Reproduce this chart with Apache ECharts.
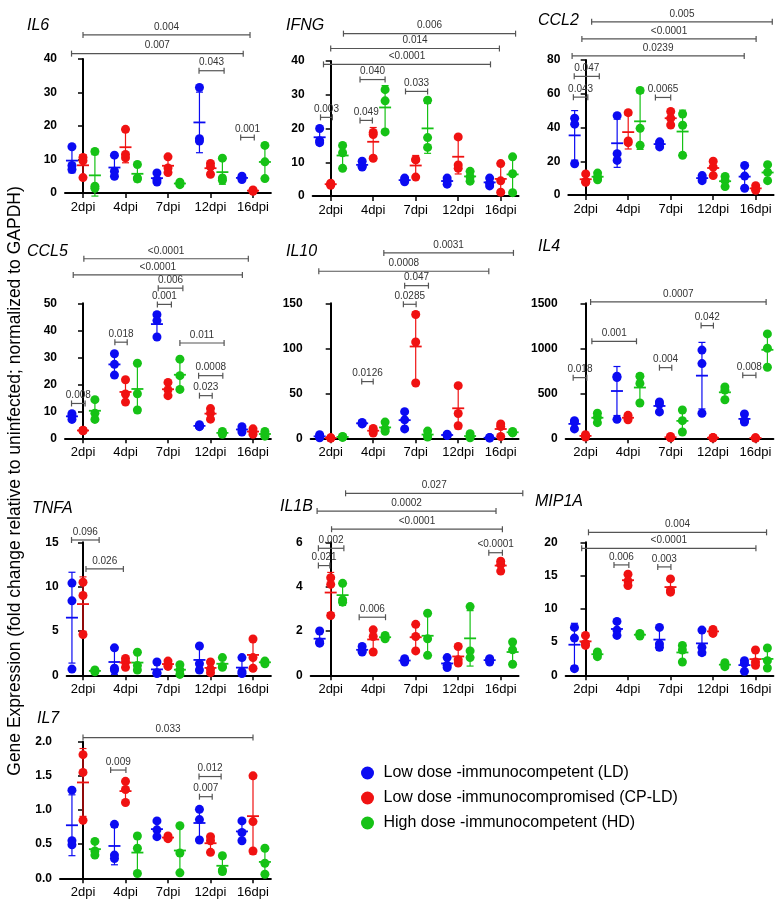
<!DOCTYPE html>
<html>
<head>
<meta charset="utf-8">
<script src="https://cdn.jsdelivr.net/npm/echarts@6/dist/echarts.min.js"></script>
<style>
  html, body { margin: 0; padding: 0; background: #fff; }
  #chart { width: 783px; height: 904px; }
</style>
</head>
<body>
<div id="chart"></div>
<script>
var DAYS = ['2dpi', '4dpi', '7dpi', '12dpi', '16dpi'];
var GROUPS = ['Low dose -immunocompetent (LD)', 'Low dose -immunocompromised (CP-LD)', 'High dose -immunocompetent (HD)'];

// three replicates per day (2, 4, 7, 12, 16 dpi) for LD / CP-LD / HD
var IL6_LD = [[13.8, 8.2, 7.0], [11.3, 6.5, 5.0], [6.0, 4.0, 3.3], [31.5, 16.2, 15.5], [5.0, 4.5, 4.0]];
var IL6_CP = [[10.6, 9.6, 4.6], [19.0, 11.5, 10.5], [10.8, 7.5, 6.1], [8.8, 7.8, 5.6], [0.9, 0.7, 0.5]];
var IL6_HD = [[12.4, 2.0, 1.4], [8.5, 4.5, 4.2], [3.2, 2.8, 2.5], [10.4, 4.5, 3.8], [14.2, 9.3, 4.3]];

var IFNG_LD = [[20.0, 16.4, 15.8], [10.3, 8.8, 8.6], [5.3, 4.6, 4.2], [5.3, 4.5, 3.5], [5.3, 3.8, 3.0]];
var IFNG_CP = [[3.8, 3.5, 3.2], [18.8, 18.2, 11.2], [10.8, 10.7, 5.6], [17.5, 9.2, 8.2], [9.6, 4.5, 1.1]];
var IFNG_HD = [[15.0, 12.8, 8.2], [31.5, 28.2, 19.0], [28.4, 17.3, 14.4], [7.3, 5.7, 4.4], [11.6, 6.6, 1.0]];

var CCL2_LD = [[45.5, 42.0, 18.5], [47.0, 24.5, 20.5], [31.5, 30.5, 28.5], [11.5, 10.0, 8.5], [17.5, 11.2, 4.0]];
var CCL2_CP = [[12.5, 8.0, 7.5], [48.8, 32.0, 31.0], [49.5, 45.5, 41.5], [20.0, 16.5, 11.5], [5.5, 3.5, 2.8]];
var CCL2_HD = [[13.0, 10.5, 9.0], [62.0, 39.5, 29.5], [48.0, 41.3, 23.5], [11.0, 8.5, 5.0], [18.0, 13.5, 8.5]];

var CCL5_LD = [[9.1, 8.3, 7.0], [31.3, 27.4, 23.4], [45.8, 43.6, 37.5], [5.0, 4.5, 4.3], [4.3, 3.2, 2.3]];
var CCL5_CP = [[3.0, 2.9, 2.8], [21.7, 16.4, 13.4], [20.7, 18.0, 15.8], [11.0, 9.3, 7.1], [3.5, 2.5, 1.5]];
var CCL5_HD = [[14.3, 9.3, 7.0], [27.8, 16.5, 10.5], [29.3, 23.2, 18.1], [2.5, 2.0, 1.5], [2.5, 1.5, 0.8]];

var IL10_LD = [[4.0, 2.0, 0.5], [17.5, 16.5, 16.0], [29.6, 20.5, 10.4], [4.5, 3.5, 3.0], [1.0, 0.5, 0.3]];
var IL10_CP = [[0.5, 0.3, 0.2], [11.0, 8.5, 5.8], [137.5, 107.0, 61.5], [58.5, 27.5, 14.0], [16.0, 13.0, 2.0]];
var IL10_HD = [[2.0, 1.5, 1.0], [18.0, 10.4, 7.8], [8.0, 3.0, 1.5], [5.0, 2.0, 0.5], [7.5, 6.5, 6.0]];

var IL4_LD = [[196, 181, 104], [690, 675, 211], [404, 381, 293], [980, 830, 278], [270, 196, 181]];
var IL4_CP = [[40, 25, 15], [255, 225, 205], [20, 10, 5], [10, 5, 3], [5, 3, 2]];
var IL4_HD = [[278, 233, 174], [690, 610, 392], [315, 196, 70], [570, 535, 428], [1160, 1000, 790]];

var TNFA_LD = [[10.4, 8.4, 0.7], [3.1, 0.8, 0.6], [1.5, 0.3, 0.2], [3.3, 1.3, 0.6], [2.0, 0.4, 0.2]];
var TNFA_CP = [[10.5, 9.0, 4.6], [1.9, 1.5, 0.9], [1.6, 1.2, 1.0], [1.5, 0.7, 0.3], [4.1, 2.0, 0.8]];
var TNFA_HD = [[0.6, 0.5, 0.4], [2.6, 1.1, 0.6], [1.2, 0.6, 0.1], [2.0, 1.0, 0.9], [1.6, 1.5, 1.3]];

var IL1B_LD = [[2.0, 1.5, 1.45], [1.3, 1.1, 1.05], [0.75, 0.65, 0.6], [0.8, 0.45, 0.35], [0.75, 0.7, 0.6]];
var IL1B_CP = [[4.4, 4.1, 2.7], [2.05, 1.75, 1.05], [2.3, 1.75, 1.1], [1.3, 0.7, 0.55], [5.15, 5.0, 4.7]];
var IL1B_HD = [[4.15, 3.4, 3.3], [1.8, 1.7, 1.65], [2.8, 1.65, 0.9], [3.1, 1.1, 0.8], [1.5, 1.15, 0.5]];

var MIP1A_LD = [[7.2, 5.6, 1.0], [8.1, 6.8, 6.0], [7.2, 4.7, 4.2], [6.8, 4.2, 3.4], [2.2, 1.8, 0.6]];
var MIP1A_CP = [[6.0, 4.8, 4.5], [15.2, 14.2, 13.5], [14.5, 12.8, 12.5], [6.9, 6.6, 6.3], [3.8, 2.0, 1.5]];
var MIP1A_HD = [[3.5, 3.2, 2.8], [6.3, 6.1, 5.9], [4.5, 3.8, 2.0], [1.9, 1.6, 1.3], [4.1, 2.2, 1.1]];

var IL7_LD = [[1.29, 0.55, 0.49], [0.79, 0.34, 0.29], [0.84, 0.71, 0.61], [1.01, 0.86, 0.56], [0.84, 0.67, 0.55]];
var IL7_CP = [[1.81, 1.55, 0.85], [1.42, 1.30, 1.11], [0.62, 0.59, 0.58], [0.61, 0.55, 0.38], [1.50, 0.83, 0.40]];
var IL7_HD = [[0.54, 0.40, 0.34], [0.62, 0.44, 0.07], [0.77, 0.37, 0.08], [0.33, 0.12, 0.10], [0.44, 0.22, 0.06]];

// significance brackets: [from x, to x, y (data units), p value]
var IL6_SIG = [[0, 3.93, 47.2, '0.004'], [-0.27, 3.77, 41.6, '0.007'], [2.73, 3.32, 36.5, '0.043'], [3.71, 4.03, 16.6, '0.001']];
var IFNG_SIG = [[0.30, 4.35, 48.1, '0.006'], [0, 3.97, 43.7, '0.014'], [-0.17, 3.76, 39.0, '<0.0001'], [0.69, 1.28, 34.5, '0.040'],
  [1.76, 2.28, 31.0, '0.033'], [0.69, 0.98, 22.4, '0.049'], [-0.24, 0.04, 23.3, '0.003']];
var CCL2_SIG = [[0.14, 4.39, 102.6, '0.005'], [-0.09, 4.01, 92.5, '<0.0001'], [-0.32, 3.73, 82.4, '0.0239'],
  [-0.27, 0.32, 70.3, '0.047'], [-0.29, 0.05, 58.0, '0.043'], [1.64, 2.0, 57.8, '0.0065']];
var CCL5_SIG = [[0.02, 3.89, 66.5, '<0.0001'], [-0.23, 3.75, 60.5, '<0.0001'], [1.77, 2.35, 55.6, '0.006'], [1.75, 2.08, 49.6, '0.001'],
  [0.75, 1.04, 35.6, '0.018'], [2.28, 3.32, 35.3, '0.011'], [2.72, 3.29, 23.2, '0.0008'], [2.74, 3.04, 15.8, '0.023'], [-0.27, 0.05, 12.9, '0.008']];
var IL10_SIG = [[1.25, 4.30, 206, '0.0031'], [-0.28, 3.72, 185.6, '0.0008'], [1.74, 2.30, 169.6, '0.047'], [1.71, 2.01, 148.9, '0.0285'], [0.73, 1.0, 63, '0.0126']];
var IL4_SIG = [[0.12, 4.25, 1515, '0.0007'], [2.72, 3.01, 1252, '0.042'], [0.15, 1.2, 1078, '0.001'], [1.74, 2.03, 785, '0.004'],
  [-0.29, 0.03, 674, '0.018'], [3.70, 4.01, 700, '0.008']];
var TNFA_SIG = [[-0.27, 0.38, 15.26, '0.096'], [0.07, 0.95, 12.0, '0.026']];
var IL1B_SIG = [[0.35, 4.52, 8.21, '0.027'], [-0.32, 3.89, 7.41, '0.0002'], [0.02, 4.04, 6.59, '<0.0001'], [-0.29, 0.31, 5.73, '0.002'],
  [-0.29, -0.02, 4.95, '0.021'], [3.72, 4.04, 5.53, '<0.0001'], [0.67, 1.29, 2.62, '0.006']];
var MIP1A_SIG = [[0.07, 4.26, 21.5, '0.004'], [-0.09, 4.01, 19.1, '<0.0001'], [0.67, 1.02, 16.6, '0.006'], [1.70, 2.01, 16.3, '0.003']];
var IL7_SIG = [[0, 4.0, 2.06, '0.033'], [0.65, 1.01, 1.585, '0.009'], [2.73, 3.25, 1.49, '0.012'], [2.74, 3.04, 1.195, '0.007']];

var FONT = '"Liberation Sans", Arial, Helvetica, sans-serif';
var COLORS = ['#0b0bf2', '#f01212', '#16c216'];
var OFF = [-0.26, 0, 0.28];   // horizontal offset of each group inside a day
var STEP = 42.5, XMAX = 4.42;

var panels = [
  { name: 'IL6', groups: [IL6_LD, IL6_CP, IL6_HD], sig: IL6_SIG, max: 40, interval: 10, axisX: 65, c0: 83, top: 59, bottom: 193, tx: 27, ty: 27 },
  { name: 'IFNG', groups: [IFNG_LD, IFNG_CP, IFNG_HD], sig: IFNG_SIG, max: 40, interval: 10, axisX: 312.7, c0: 330.7, top: 61, bottom: 196, tx: 286, ty: 27 },
  { name: 'CCL2', groups: [CCL2_LD, CCL2_CP, CCL2_HD], sig: CCL2_SIG, max: 80, interval: 20, axisX: 568.3, c0: 585.7, top: 60, bottom: 195, tx: 538, ty: 22 },
  { name: 'CCL5', groups: [CCL5_LD, CCL5_CP, CCL5_HD], sig: CCL5_SIG, max: 50, interval: 10, axisX: 65, c0: 83, top: 303.3, bottom: 438.3, tx: 27, ty: 253 },
  { name: 'IL10', groups: [IL10_LD, IL10_CP, IL10_HD], sig: IL10_SIG, max: 150, interval: 50, axisX: 310.7, c0: 330.7, top: 303.3, bottom: 438.3, tx: 286, ty: 253 },
  { name: 'IL4', groups: [IL4_LD, IL4_CP, IL4_HD], sig: IL4_SIG, max: 1500, interval: 500, axisX: 565.7, c0: 585.5, top: 303.3, bottom: 438.3, tx: 538, ty: 248 },
  { name: 'TNFA', groups: [TNFA_LD, TNFA_CP, TNFA_HD], sig: TNFA_SIG, max: 15, interval: 5, axisX: 66.7, c0: 83, top: 542.3, bottom: 675.3, tx: 32, ty: 510 },
  { name: 'IL1B', groups: [IL1B_LD, IL1B_CP, IL1B_HD], sig: IL1B_SIG, max: 6, interval: 2, axisX: 310.7, c0: 330.7, top: 542.3, bottom: 675.3, tx: 280, ty: 508 },
  { name: 'MIP1A', groups: [MIP1A_LD, MIP1A_CP, MIP1A_HD], sig: MIP1A_SIG, max: 20, interval: 5, axisX: 565.7, c0: 585.5, top: 542.3, bottom: 675.3, tx: 535, ty: 503 },
  { name: 'IL7', groups: [IL7_LD, IL7_CP, IL7_HD], sig: IL7_SIG, max: 2, interval: 0.5, axisX: 60, c0: 83, top: 741.7, bottom: 878.3, tx: 37, ty: 720, dec: 1 }
];

function renderErr(params, api) {
  var x = api.value(0), m = api.value(1), s = api.value(2), c = COLORS[api.value(3)];
  var hi = api.coord([x, m + s]), mid = api.coord([x, m]), lo = api.coord([x, m - s]);
  var cx = mid[0];
  function seg(x1, y1, x2, y2, w) {
    return { type: 'line', shape: { x1: x1, y1: y1, x2: x2, y2: y2 }, style: { stroke: c, lineWidth: w } };
  }
  return {
    type: 'group',
    children: [
      seg(cx, hi[1], cx, lo[1], 1.2),
      seg(cx - 3.5, hi[1], cx + 3.5, hi[1], 1.2),
      seg(cx - 3.5, lo[1], cx + 3.5, lo[1], 1.2),
      seg(cx - 6, mid[1], cx + 6, mid[1], 1.8)
    ]
  };
}

function makeSig(sig) {
  return function (params, api) {
    var s = sig[params.dataIndex];
    var a = api.coord([s[0], s[2]]), b = api.coord([s[1], s[2]]);
    function st() { return { stroke: '#555', lineWidth: 1.2 }; }
    return {
      type: 'group',
      children: [
        { type: 'line', shape: { x1: a[0], y1: a[1], x2: b[0], y2: b[1] }, style: st() },
        { type: 'line', shape: { x1: a[0], y1: a[1] - 3, x2: a[0], y2: a[1] + 3 }, style: st() },
        { type: 'line', shape: { x1: b[0], y1: b[1] - 3, x2: b[0], y2: b[1] + 3 }, style: st() },
        { type: 'text', x: (a[0] + b[0]) / 2, y: a[1] - 3,
          style: { text: s[3], fill: '#333', fontSize: 10, fontFamily: FONT, align: 'center', verticalAlign: 'bottom' } }
      ]
    };
  };
}

var option = {
  animation: false,
  title: [],
  grid: [],
  xAxis: [],
  yAxis: [],
  series: [],
  legend: {
    data: GROUPS,
    orient: 'vertical',
    left: 356,
    top: 760,
    icon: 'circle',
    itemWidth: 22,
    itemHeight: 13,
    itemGap: 9,
    textStyle: { fontSize: 16, lineHeight: 15.5, color: '#000', fontFamily: FONT }
  },
  graphic: [{
    type: 'text',
    x: 15,
    y: 481,
    rotation: Math.PI / 2,
    style: {
      text: 'Gene Expression (fold change relative to uninfected; normalized to GAPDH)',
      fontSize: 17.5, fill: '#000', fontFamily: FONT, align: 'center', verticalAlign: 'middle'
    }
  }]
};

panels.forEach(function (p, k) {
  var xmin = -(p.c0 - p.axisX) / STEP;
  option.title.push({
    text: p.name, left: p.tx, top: p.ty - 9, padding: 0,
    textStyle: { fontSize: 16, fontStyle: 'italic', fontWeight: 'normal', color: '#000', fontFamily: FONT }
  });
  option.grid.push({ left: p.axisX, top: p.top, width: (XMAX - xmin) * STEP, height: p.bottom - p.top, outerBoundsMode: 'none' });
  option.xAxis.push({
    gridIndex: k, type: 'value', min: xmin, max: XMAX,
    axisLine: { show: true, onZero: false, lineStyle: { color: '#000', width: 2 } },
    axisTick: { show: true, customValues: [0, 1, 2, 3, 4], length: 5, lineStyle: { color: '#000', width: 1.5 } },
    axisLabel: {
      customValues: [0, 1, 2, 3, 4], color: '#000', fontSize: 13, margin: 8, fontFamily: FONT,
      formatter: function (v) { return DAYS[Math.round(v)]; }
    },
    splitLine: { show: false }
  });
  option.yAxis.push({
    gridIndex: k, type: 'value', min: 0, max: p.max, interval: p.interval,
    axisLine: { show: true, lineStyle: { color: '#000', width: 2 } },
    axisTick: { show: true, length: 5, lineStyle: { color: '#000', width: 1.5 } },
    axisLabel: {
      color: '#000', fontSize: 12, fontWeight: 'bold', margin: 8, fontFamily: FONT,
      formatter: function (v) { return p.dec ? v.toFixed(p.dec) : String(v); }
    },
    splitLine: { show: false }
  });

  var bars = [];
  p.groups.forEach(function (vals, g) {
    var pts = [];
    vals.forEach(function (reps, i) {
      var x = i + OFF[g];
      reps.forEach(function (v) { pts.push([x, v]); });
      var m = reps.reduce(function (a, b) { return a + b; }, 0) / reps.length;
      var sd = Math.sqrt(reps.reduce(function (a, b) { return a + (b - m) * (b - m); }, 0) / (reps.length - 1));
      bars.push([x, m, sd, g]);
    });
    option.series.push({
      name: GROUPS[g], type: 'scatter', xAxisIndex: k, yAxisIndex: k,
      data: pts, symbolSize: 9, itemStyle: { color: COLORS[g], opacity: 1 }, z: 3
    });
  });
  option.series.push({
    type: 'custom', xAxisIndex: k, yAxisIndex: k, data: bars,
    renderItem: renderErr, encode: { x: 0, y: 1 }, z: 4, silent: true
  });
  option.series.push({
    type: 'custom', xAxisIndex: k, yAxisIndex: k,
    data: p.sig.map(function (s) { return [s[0], s[1], s[2]]; }),
    renderItem: makeSig(p.sig), encode: { x: [0, 1], y: 2 }, z: 5, silent: true
  });
});

var myChart = echarts.init(document.getElementById('chart'));
myChart.setOption(option);
</script>
</body>
</html>
